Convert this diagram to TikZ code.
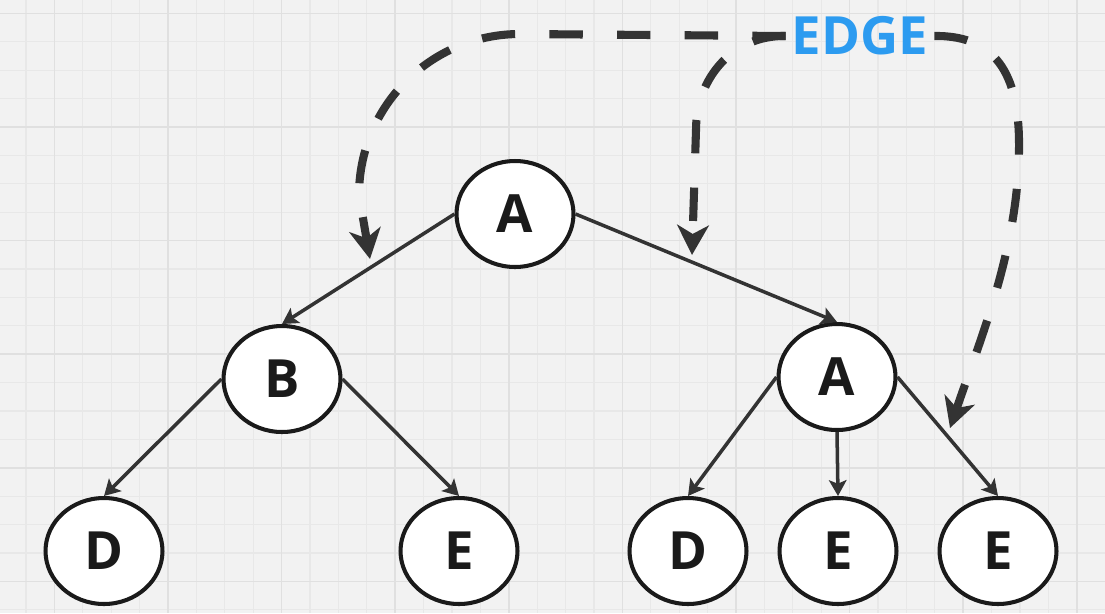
\documentclass[tikz,border=0pt]{standalone}
\usepackage{fontspec}
\setmainfont{Open Sans}
\usetikzlibrary{positioning}
\usetikzlibrary{shapes}
\usetikzlibrary{arrows.meta}
\definecolor{ink}{HTML}{333333}
\definecolor{rim}{HTML}{1A1A1A}
\definecolor{paper}{HTML}{F2F2F2}
\definecolor{gridminor}{HTML}{E8E8E8}
\definecolor{gridmajor}{HTML}{E0E0E0}
\definecolor{edgeblue}{RGB}{44,155,240}
\tikzset{
  every node/.append style={font=\bfseries\fontsize{30}{36}\selectfont, text=rim},
  every path/.append style={line join=miter}
}
\tikzstyle{vertex} = [ellipse, draw=rim, line width=2.3pt, fill=white, inner sep=0pt, minimum width=2.34cm, minimum height=2.12cm]
\tikzstyle{link} = [draw=ink, line width=2pt, -{Stealth[length=9pt, width=10pt, inset=2pt]}]
\tikzstyle{hint} = [draw=ink, line width=4.6pt, dash pattern=on 19pt off 19.5pt, -{Stealth[length=17pt, width=18pt, inset=5pt]}]
\newcommand\treenode[3]{
  % #1 - Tikz name
  % #2 - Location
  % #3 - Letter
  \node [vertex] at (#2) (#1) {#3};
}

\begin{document}
\begin{tikzpicture}[x=0.02cm, y=-0.02cm]
  \useasboundingbox (0,0) rectangle (1105,613);
  \fill[paper] (0,0) rectangle (1105,613);
  % grid
  \foreach \gx in {0,...,38}
    \draw[gridminor, line width=0.7pt] ({26+28.4*\gx},0) -- ({26+28.4*\gx},613);
  \foreach \gy in {0,...,21}
    \draw[gridminor, line width=0.7pt] (0,{13.4+28.4*\gy}) -- (1105,{13.4+28.4*\gy});
  \foreach \gx in {0,...,9}
    \draw[gridmajor, line width=0.9pt] ({54.4+113.6*\gx},0) -- ({54.4+113.6*\gx},613);
  \foreach \gy in {0,...,5}
    \draw[gridmajor, line width=0.9pt] (0,{13.4+113.6*\gy}) -- (1105,{13.4+113.6*\gy});

  \treenode{root}{515,214}{A}
  \treenode{b}{282,379}{B}
  \treenode{a}{837,377}{A}
  \treenode{bd}{104,551}{D}
  \treenode{be}{459,551}{E}
  \treenode{ad}{688,551}{D}
  \treenode{ae}{838,551}{E}
  \treenode{aee}{998,551}{E}

  \node [text=edgeblue] at (860,36) (edge) {EDGE};

  \draw[link] (root.west) -- (b.north);
  \draw[link] (root.east) -- (a.north);
  \draw[link] (b.west) -- (bd.north);
  \draw[link] (b.east) -- (be.north);
  \draw[link] (a.west) -- (ad.north);
  \draw[link] (a.south) -- (ae.north);
  \draw[link] (a.east) -- (aee.north);

  \coordinate (hintb) at (370,259);
  \coordinate (hinta) at (692,255);
  \coordinate (hintaee) at (950,428);

  \draw[hint] (edge.west) -- (520,34) .. controls (431,34) and (359,106) .. (359,195) -- (hintb);
  \draw[hint] (edge.west) .. controls (733,35) and (696,78) .. (696,130) -- (hinta);
  \draw[hint] (edge.east) .. controls (1000,35) and (1020,80) .. (1019,150)
    .. controls (1018,250) and (980,340) .. (hintaee);
\end{tikzpicture}
\end{document}
